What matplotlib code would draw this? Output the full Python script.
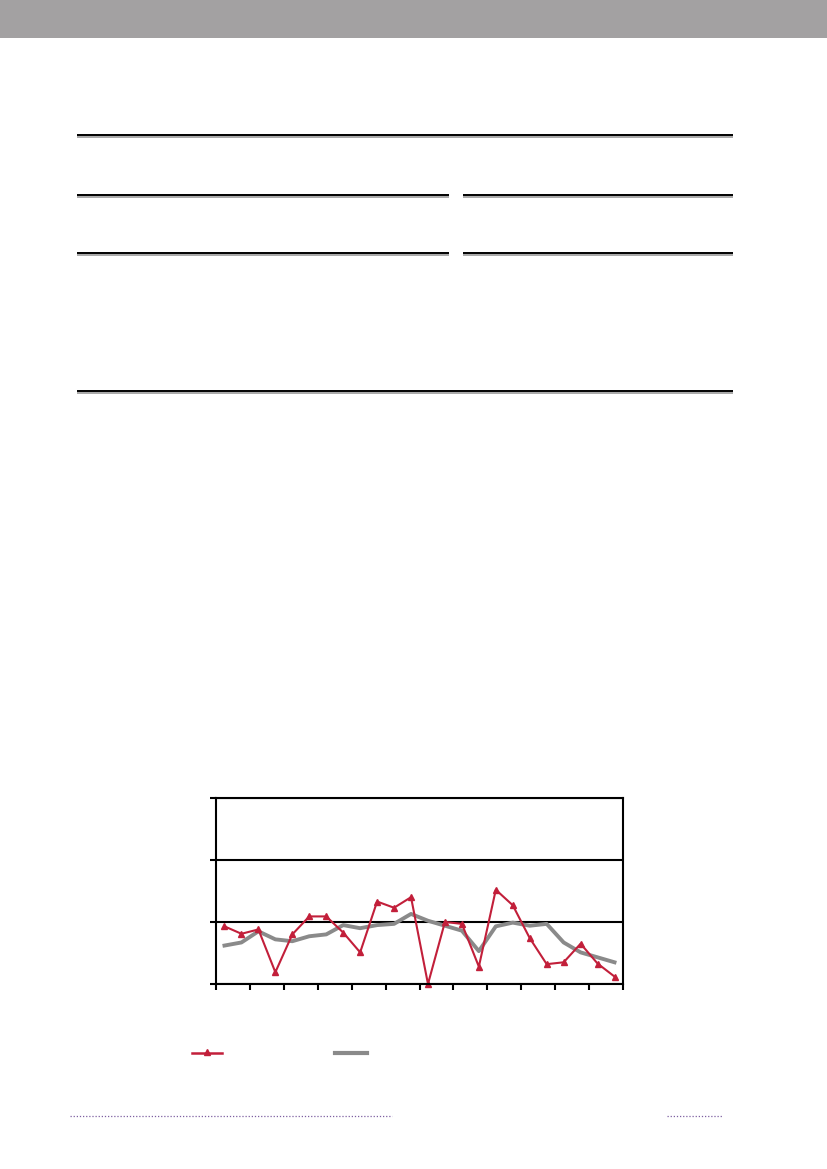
import numpy as np
import matplotlib
matplotlib.use("Agg")
import matplotlib.pyplot as plt

# ── Data ────────────────────────────────────────────────────────────────────
periods = list(range(24))
series_red = [0.93, 0.81, 0.88, 0.19, 0.80, 1.09, 1.09, 0.83, 0.51, 1.33, 1.23, 1.40,
              0.00, 1.00, 0.97, 0.28, 1.52, 1.27, 0.74, 0.32, 0.35, 0.65, 0.33, 0.12]
series_grey = [0.62, 0.67, 0.85, 0.72, 0.69, 0.77, 0.80, 0.95, 0.90, 0.95, 0.97, 1.13,
               1.02, 0.94, 0.86, 0.53, 0.93, 0.99, 0.94, 0.97, 0.67, 0.51, 0.43, 0.35]
y_ticks = [0, 1, 2, 3]

RED = "#c21f3a"
GREY = "#8a8a8a"
W, H = 827, 1169

fig = plt.figure(figsize=(W / 100, H / 100), dpi=100)

# page layer in pixel coordinates
page = fig.add_axes([0, 0, 1, 1])
page.set_xlim(0, W)
page.set_ylim(H, 0)
page.axis("off")

page.fill_between([0, W], 0, 38, color="#a3a1a2", linewidth=0)


def rule(x0, x1, y):
    page.plot([x0, x1], [y + 1.5, y + 1.5], color="#9a9a9a", linewidth=1.2, solid_capstyle="butt")
    page.plot([x0, x1], [y, y], color="black", linewidth=1.4, solid_capstyle="butt")


rule(77, 733, 135)
rule(77, 449, 195)
rule(463, 733, 195)
rule(77, 449, 253)
rule(463, 733, 253)
rule(77, 733, 391)

# dotted footer lines
page.plot([70, 392], [1116, 1116], color="#7d5fa0", linewidth=0.9, linestyle=(0, (1, 1.5)))
page.plot([667, 723], [1116, 1116], color="#7d5fa0", linewidth=0.9, linestyle=(0, (1, 1.5)))

# legend swatches
page.plot([192, 222], [1053, 1053], color=RED, linewidth=1.8)
page.plot([207], [1052], marker="^", color=RED, markersize=5)
page.plot([335, 367], [1053, 1053], color=GREY, linewidth=3)

# ── Line chart ──────────────────────────────────────────────────────────────
left, right, top, bottom = 216, 623, 798, 984
ax = fig.add_axes([left / W, 1 - bottom / H, (right - left) / W, (bottom - top) / H])
ax.plot(periods, series_grey, color=GREY, linewidth=2.8, solid_joinstyle="round")
ax.plot(periods, series_red, color=RED, linewidth=1.5, marker="^", markersize=5, clip_on=False)

ax.set_xlim(-0.5, 23.5)
ax.set_ylim(0, 3)
ax.set_yticks(y_ticks)
ax.set_xticks(np.arange(-0.5, 24, 2))
ax.set_xticklabels([])
ax.set_yticklabels([])
ax.yaxis.grid(True, color="black", linewidth=1.5)
ax.set_axisbelow(True)
ax.tick_params(direction="out", length=4, width=1.5, color="black")
for side in ["left", "bottom", "top", "right"]:
    ax.spines[side].set_linewidth(1.5)
    ax.spines[side].set_color("black")

fig.savefig("out.png", dpi=100)
